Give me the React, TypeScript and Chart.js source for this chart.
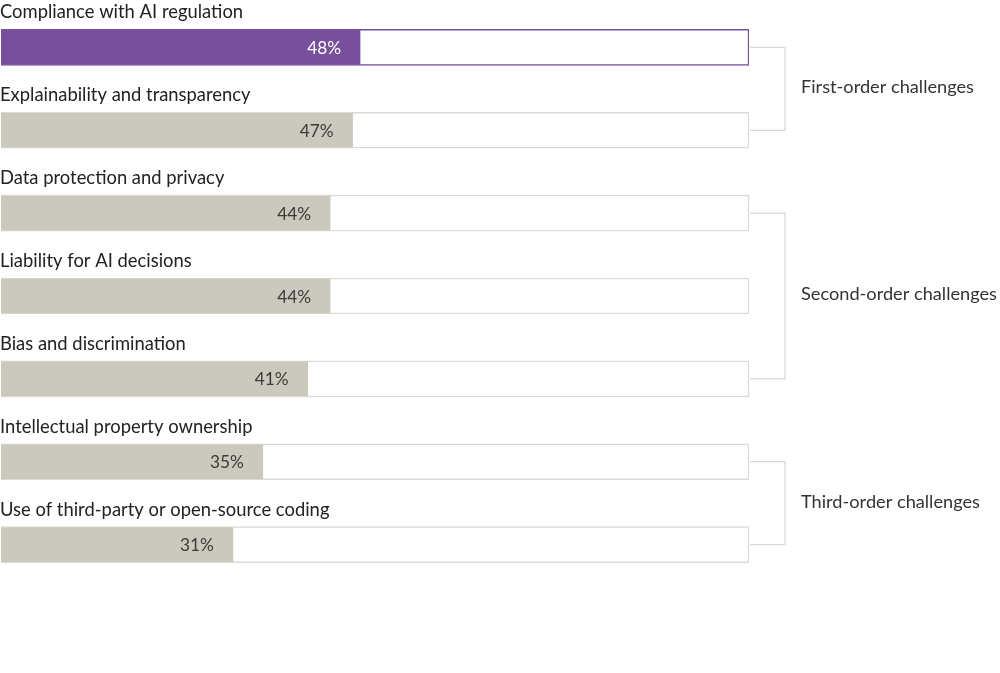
import React, { useEffect, useRef } from "react";
import { Chart, registerables } from "chart.js";

Chart.register(...registerables);

const categories = [
  "Compliance with AI regulation",
  "Explainability and transparency",
  "Data protection and privacy",
  "Liability for AI decisions",
  "Bias and discrimination",
  "Intellectual property ownership",
  "Use of third-party or open-source coding",
];
const values = [48, 47, 44, 44, 41, 35, 31];
const trackValues = [100, 100, 100, 100, 100, 100, 100];
const groupNames = ["First-order challenges", "Second-order challenges", "Third-order challenges"];
const groupStart = [0, 2, 5];
const groupEnd = [1, 4, 6];

const PURPLE = "#774f9b";
const GREY = "#cbc9bd";
const TRACK_BORDER = "#dcdad2";
const FONT = "Lato, 'Open Sans', sans-serif";

const annotations = {
  id: "annotations",
  afterDatasetsDraw(chart: any) {
    const { ctx } = chart;
    const y = chart.scales.y;
    const x = chart.scales.x;
    ctx.save();
    // category labels above each track
    ctx.font = `18.4px ${FONT}`;
    ctx.fillStyle = "#222";
    ctx.textBaseline = "middle";
    ctx.textAlign = "left";
    categories.forEach((c, i) => {
      ctx.fillText(c, 0, y.getPixelForValue(i) - 35);
    });
    // value labels near bar ends
    ctx.font = `17.3px ${FONT}`;
    ctx.textAlign = "right";
    values.forEach((v, i) => {
      ctx.fillStyle = i === 0 ? "#ffffff" : "#3a3a3a";
      ctx.fillText(`${v}%`, x.getPixelForValue(v) - 19, y.getPixelForValue(i) + 1);
    });
    // group brackets and names
    const right = x.getPixelForValue(100);
    const bx = right + 36;
    ctx.strokeStyle = "#d8d8d4";
    ctx.lineWidth = 1.2;
    ctx.font = `18.2px ${FONT}`;
    ctx.textAlign = "left";
    ctx.fillStyle = "#333";
    groupNames.forEach((g, k) => {
      const y0 = y.getPixelForValue(groupStart[k]);
      const y1 = y.getPixelForValue(groupEnd[k]);
      ctx.beginPath();
      ctx.moveTo(right + 1, y0);
      ctx.lineTo(bx, y0);
      ctx.lineTo(bx, y1);
      ctx.lineTo(right + 1, y1);
      ctx.stroke();
      ctx.fillText(g, bx + 16, (y0 + y1) / 2 - 1.5);
    });
    ctx.restore();
  },
};

export default function App() {
  const ref = useRef<HTMLCanvasElement>(null);
  useEffect(() => {
    const chart = new Chart(ref.current!, {
      type: "bar",
      data: {
        labels: categories,
        datasets: [
          {
            data: values,
            backgroundColor: values.map((_, i) => (i === 0 ? PURPLE : GREY)),
            borderWidth: 0,
            barThickness: 34,
            grouped: false,
            order: 0,
          },
          {
            data: trackValues,
            backgroundColor: "#ffffff",
            borderColor: trackValues.map((_, i) => (i === 0 ? PURPLE : TRACK_BORDER)),
            borderWidth: 1.5,
            borderSkipped: false,
            barThickness: 36,
            grouped: false,
            order: 1,
          },
        ],
      },
      options: {
        indexAxis: "y",
        animation: false,
        responsive: false,
        maintainAspectRatio: false,
        layout: { padding: { left: 1, right: 251, top: 6, bottom: 87 } },
        scales: {
          x: { min: 0, max: 100, display: false },
          y: { display: false },
        },
        plugins: { legend: { display: false }, tooltip: { enabled: false } },
      },
      plugins: [annotations],
    });
    return () => chart.destroy();
  }, []);
  return (
    <div style={{ position: "absolute", left: 0, top: 0, width: 1000, height: 673, background: "#fff" }}>
      <canvas ref={ref} width={1000} height={673} />
    </div>
  );
}
